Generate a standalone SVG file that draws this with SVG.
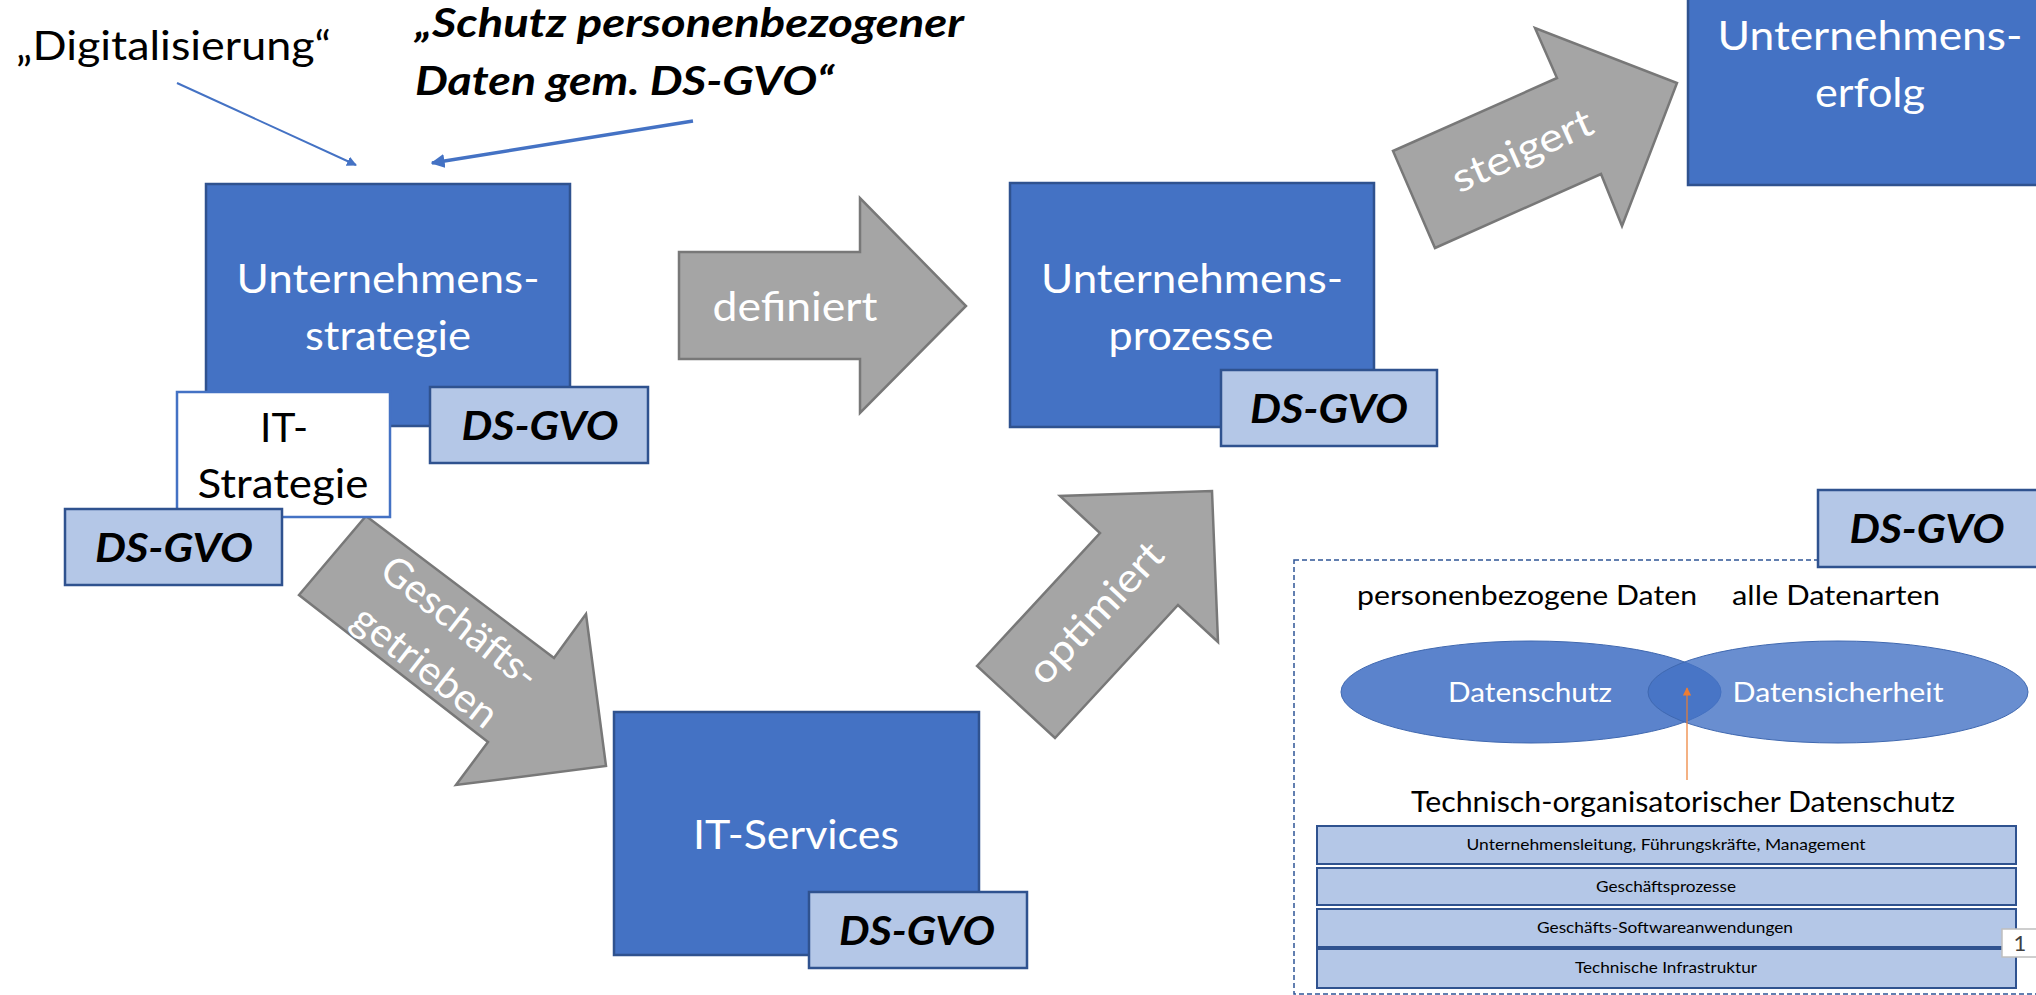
<svg xmlns="http://www.w3.org/2000/svg" width="2036" height="995" viewBox="0 0 2036 995">
<defs>
<style>
.box{fill:#4472C4;stroke:#2F528F;stroke-width:2.5}
.ds{fill:#B4C7E7;stroke:#2F528F;stroke-width:2.5}
.row{fill:#B4C7E7;stroke:#2F528F;stroke-width:2}
.arr{fill:#A5A5A5;stroke:#787878;stroke-width:2.5}
.t{font-family:Lato,"Open Sans","Liberation Sans",sans-serif}
.wl{fill:#FFFFFF;font-size:41px}
.bl{fill:#000000;font-size:40px}
.dst{fill:#000000;font-size:40px;font-weight:bold;font-style:italic}
.al{fill:#FFFFFF;font-size:40px}
.pt{fill:#000000;font-size:27px}
.rt{fill:#000000;font-size:16px}
</style>
<marker id="bh" viewBox="0 0 10 10" refX="9" refY="5" markerWidth="5" markerHeight="5" orient="auto" markerUnits="strokeWidth"><path d="M0,0 L10,5 L0,10 Z" fill="#4472C4"/></marker>
<marker id="bh2" viewBox="0 0 10 10" refX="9" refY="5" markerWidth="4" markerHeight="4" orient="auto" markerUnits="strokeWidth"><path d="M0,0 L10,5 L0,10 Z" fill="#4472C4"/></marker>
<marker id="oh" viewBox="0 0 10 10" refX="9" refY="5" markerWidth="7" markerHeight="7" orient="auto" markerUnits="strokeWidth"><path d="M0,0 L10,5 L0,10 Z" fill="#ED7D31"/></marker>
</defs>
<rect x="0" y="0" width="2036" height="995" fill="#FFFFFF"/>

<g id="connectors">
<line x1="177" y1="83" x2="356" y2="165" stroke="#4472C4" stroke-width="2" marker-end="url(#bh)"/>
<line x1="693" y1="121" x2="432" y2="163" stroke="#4472C4" stroke-width="3.5" marker-end="url(#bh2)"/>
<g id="arrow-definiert">
<path class="arr" d="M679,252 L860,252 L860,198 L966,306 L860,413 L860,359 L679,359 Z"/>
<text class="t al" x="795" y="321" text-anchor="middle" textLength="165" lengthAdjust="spacingAndGlyphs">definiert</text>
</g>
<g id="arrow-steigert">
<path class="arr" d="M1393,151 L1557,78 L1535,28 L1677,83 L1622,226 L1601,174 L1435,248 Z"/>
<text class="t al" transform="translate(1523,152) rotate(-24)" x="0" y="12" text-anchor="middle" textLength="150" lengthAdjust="spacingAndGlyphs">steigert</text>
</g>
<g id="arrow-geschaeftsgetrieben">
<path class="arr" d="M366,516 L554,658 L586,614 L606,766 L456,785 L488,742 L299,595 Z"/>
<g transform="translate(443,644) rotate(38)">
<text class="t al" x="0" y="-14" text-anchor="middle" textLength="188" lengthAdjust="spacingAndGlyphs">Geschäfts-</text>
<text class="t al" x="0" y="42" text-anchor="middle" textLength="172" lengthAdjust="spacingAndGlyphs">getrieben</text>
</g>
</g>
<g id="arrow-optimiert">
<path class="arr" d="M977,666 L1100,533 L1060,496 L1212,491 L1218,642 L1178,605 L1055,738 Z"/>
<text class="t al" transform="translate(1097,614) rotate(-47)" x="0" y="12" text-anchor="middle" textLength="178" lengthAdjust="spacingAndGlyphs">optimiert</text>
</g>
</g>

<g id="label-digitalisierung">
<text class="t bl" x="16" y="60" textLength="315" lengthAdjust="spacingAndGlyphs">„Digitalisierung“</text>
</g>
<g id="label-schutz">
<text class="t dst" x="415" y="37" textLength="549" lengthAdjust="spacingAndGlyphs">„Schutz personenbezogener</text>
<text class="t dst" x="415" y="95" textLength="419" lengthAdjust="spacingAndGlyphs">Daten gem. DS-GVO“</text>
</g>

<g id="node-unternehmensstrategie">
<rect class="box" x="206" y="184" width="364" height="242"/>
<text class="t wl" x="388" y="293" text-anchor="middle" textLength="303" lengthAdjust="spacingAndGlyphs">Unternehmens-</text>
<text class="t wl" x="388" y="350" text-anchor="middle" textLength="166" lengthAdjust="spacingAndGlyphs">strategie</text>
</g>
<g id="ds-strategie">
<rect class="ds" x="430" y="387" width="218" height="76"/>
<text class="t dst" x="540" y="440" text-anchor="middle" textLength="157" lengthAdjust="spacingAndGlyphs">DS-GVO</text>
</g>
<g id="node-it-strategie">
<rect x="177" y="392" width="213" height="125" fill="#FFFFFF" stroke="#4472C4" stroke-width="2.5"/>
<text class="t bl" x="284" y="442" text-anchor="middle" textLength="48" lengthAdjust="spacingAndGlyphs">IT-</text>
<text class="t bl" x="283" y="498" text-anchor="middle" textLength="171" lengthAdjust="spacingAndGlyphs">Strategie</text>
</g>
<g id="ds-it-strategie">
<rect class="ds" x="65" y="509" width="217" height="76"/>
<text class="t dst" x="174" y="562" text-anchor="middle" textLength="158" lengthAdjust="spacingAndGlyphs">DS-GVO</text>
</g>

<g id="node-unternehmensprozesse">
<rect class="box" x="1010" y="183" width="364" height="244"/>
<text class="t wl" x="1192" y="293" text-anchor="middle" textLength="302" lengthAdjust="spacingAndGlyphs">Unternehmens-</text>
<text class="t wl" x="1191" y="350" text-anchor="middle" textLength="165" lengthAdjust="spacingAndGlyphs">prozesse</text>
</g>
<g id="ds-prozesse">
<rect class="ds" x="1221" y="370" width="216" height="76"/>
<text class="t dst" x="1329" y="423" text-anchor="middle" textLength="158" lengthAdjust="spacingAndGlyphs">DS-GVO</text>
</g>

<g id="node-unternehmenserfolg">
<rect class="box" x="1688" y="-5" width="364" height="190"/>
<text class="t wl" x="1870" y="50" text-anchor="middle" textLength="305" lengthAdjust="spacingAndGlyphs">Unternehmens-</text>
<text class="t wl" x="1870" y="107" text-anchor="middle" textLength="110" lengthAdjust="spacingAndGlyphs">erfolg</text>
</g>

<g id="node-it-services">
<rect class="box" x="614" y="712" width="365" height="243"/>
<text class="t wl" x="796" y="849" text-anchor="middle" textLength="206" lengthAdjust="spacingAndGlyphs">IT-Services</text>
</g>
<g id="ds-it-services">
<rect class="ds" x="809" y="892" width="218" height="76"/>
<text class="t dst" x="917" y="945" text-anchor="middle" textLength="156" lengthAdjust="spacingAndGlyphs">DS-GVO</text>
</g>

<g id="panel">
<rect x="1294" y="560" width="760" height="434" fill="none" stroke="#2F5597" stroke-width="1.5" stroke-dasharray="5,3"/>
<text class="t pt" x="1357" y="605" textLength="340" lengthAdjust="spacingAndGlyphs">personenbezogene Daten</text>
<text class="t pt" x="1732" y="605" textLength="208" lengthAdjust="spacingAndGlyphs">alle Datenarten</text>
</g>
<g id="ellipse-datenschutz">
<ellipse cx="1531" cy="692" rx="190" ry="51" fill="#5B83CC" stroke="#3F68B0" stroke-width="1"/>
</g>
<g id="ellipse-datensicherheit">
<ellipse cx="1838" cy="692" rx="190" ry="51" fill="#4472C4" fill-opacity="0.8" stroke="#3F68B0" stroke-width="1"/>
</g>
<text class="t" x="1530" y="702" text-anchor="middle" fill="#FFFFFF" font-size="27" textLength="164" lengthAdjust="spacingAndGlyphs">Datenschutz</text>
<text class="t" x="1838" y="702" text-anchor="middle" fill="#FFFFFF" font-size="27" textLength="211" lengthAdjust="spacingAndGlyphs">Datensicherheit</text>
<g id="connector-tom">
<line x1="1687" y1="780" x2="1687" y2="688" stroke="#ED7D31" stroke-width="1.2" marker-end="url(#oh)"/>
</g>
<g id="label-tom">
<text class="t" x="1411" y="812" fill="#000000" font-size="28" textLength="544" lengthAdjust="spacingAndGlyphs">Technisch-organisatorischer Datenschutz</text>
</g>
<g id="row-1">
<rect class="row" x="1317" y="826" width="699" height="38"/>
<text class="t rt" x="1666" y="850" text-anchor="middle" textLength="399" lengthAdjust="spacingAndGlyphs">Unternehmensleitung, Führungskräfte, Management</text>
</g>
<g id="row-2">
<rect class="row" x="1317" y="868" width="699" height="37"/>
<text class="t rt" x="1666" y="892" text-anchor="middle" textLength="140" lengthAdjust="spacingAndGlyphs">Geschäftsprozesse</text>
</g>
<g id="row-3">
<rect class="row" x="1317" y="909" width="699" height="38"/>
<text class="t rt" x="1665" y="933" text-anchor="middle" textLength="256" lengthAdjust="spacingAndGlyphs">Geschäfts-Softwareanwendungen</text>
</g>
<g id="row-4">
<rect class="row" x="1317" y="949" width="699" height="39"/>
<text class="t rt" x="1666" y="973" text-anchor="middle" textLength="182" lengthAdjust="spacingAndGlyphs">Technische Infrastruktur</text>
</g>
<g id="ds-panel">
<rect class="ds" x="1818" y="490" width="222" height="77"/>
<text class="t dst" x="1927" y="543" text-anchor="middle" textLength="155" lengthAdjust="spacingAndGlyphs">DS-GVO</text>
</g>
<g id="page-number">
<rect x="2002" y="929" width="40" height="28" fill="#FFFFFF" stroke="#BFBFBF" stroke-width="1.5"/>
<text class="t" x="2020" y="951" text-anchor="middle" fill="#404040" font-size="22">1</text>
</g>
</svg>
